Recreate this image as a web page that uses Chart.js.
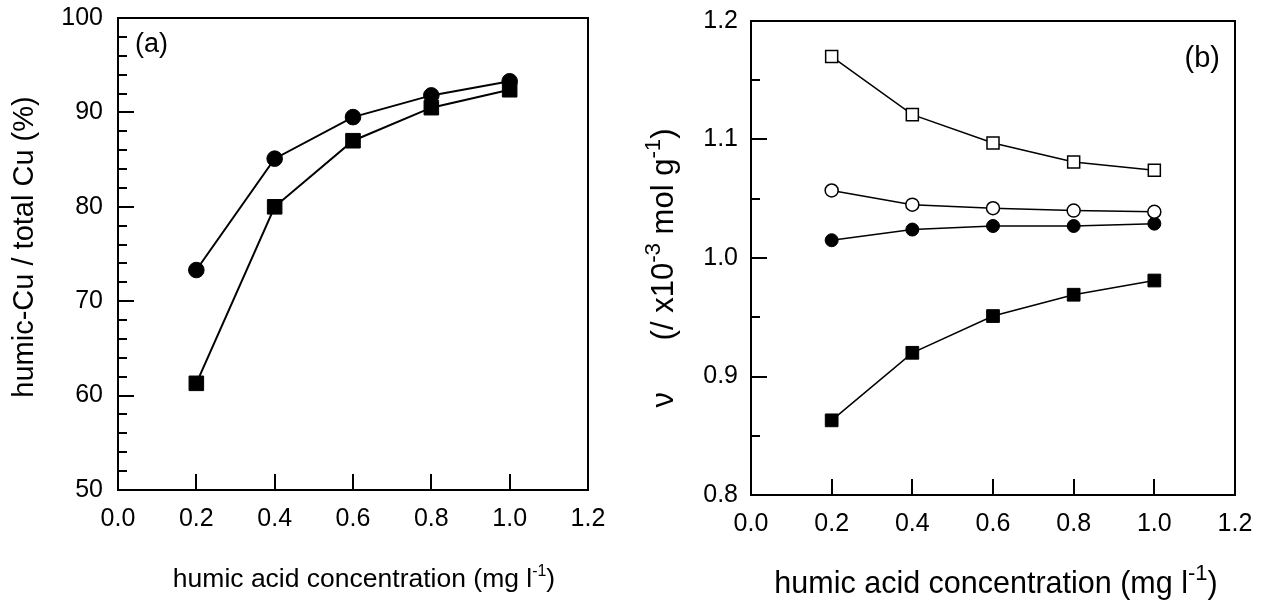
<!DOCTYPE html>
<html>
<head>
<meta charset="utf-8">
<script src="https://cdn.jsdelivr.net/npm/chart.js@4.4.0/dist/chart.umd.min.js"></script>
<style>
  html, body { margin: 0; padding: 0; background: #fff; }
  #wrap { position: relative; width: 1262px; height: 603px; }
  .panel { position: absolute; top: 0; width: 631px; height: 603px; }
</style>
</head>
<body>
<div id="wrap">
  <div class="panel" style="left:0"><canvas id="chartA" width="631" height="603"></canvas></div>
  <div class="panel" style="left:631px"><canvas id="chartB" width="631" height="603"></canvas></div>
</div>
<script>
const concentration = [0.2, 0.4, 0.6, 0.8, 1.0];

// (a) humic-Cu / total Cu (%)
const boundCircles = [73.3, 85.1, 89.5, 91.8, 93.3];
const boundSquares = [61.3, 80.0, 87.0, 90.5, 92.4];

// (b) nu (x10^-3 mol/g)
const nuOpenSquares = [1.170, 1.121, 1.097, 1.081, 1.074];
const nuOpenCircles = [1.057, 1.045, 1.042, 1.040, 1.039];
const nuFilledCircles = [1.015, 1.024, 1.027, 1.027, 1.029];
const nuFilledSquares = [0.863, 0.920, 0.951, 0.969, 0.981];

const xTickValues = [0.0, 0.2, 0.4, 0.6, 0.8, 1.0, 1.2];
const yTicksA = [50, 60, 70, 80, 90, 100];
const yTicksB = [0.8, 0.9, 1.0, 1.1, 1.2];

const FONT = "'Liberation Sans', Arial, Helvetica, sans-serif";

// axis titles as pieces so the exponents can be raised
const xTitleParts = [{ t: 'humic acid concentration (mg l' }, { t: '-1', sup: true }, { t: ')' }];
const yTitlePartsA = [{ t: 'humic-Cu / total Cu (%)' }];
const yTitlePartsB = [{ t: '\u03BD      (/ x10' }, { t: '-3', sup: true }, { t: ' mol g' }, { t: '-1', sup: true }, { t: ')' }];

function pts(ys) {
  return concentration.map((x, i) => ({ x: x, y: ys[i] }));
}

function series(ys, style, filled, r, lw) {
  return {
    data: pts(ys),
    showLine: true,
    borderColor: '#000',
    borderWidth: lw,
    pointStyle: style,
    pointRadius: r,
    pointHoverRadius: r,
    pointBackgroundColor: filled ? '#000' : '#fff',
    pointBorderColor: '#000',
    pointBorderWidth: filled ? 1 : 1.5,
    tension: 0
  };
}

function drawRich(ctx, parts, x, y, size, supScale, rotate) {
  ctx.save();
  ctx.translate(x, y);
  if (rotate) ctx.rotate(-Math.PI / 2);
  ctx.textBaseline = 'alphabetic';
  ctx.textAlign = 'left';
  const supSize = size * supScale;
  const widths = parts.map(p => {
    ctx.font = (p.sup ? supSize : size) + 'px ' + FONT;
    return ctx.measureText(p.t).width;
  });
  let cx = -widths.reduce((s, w) => s + w, 0) / 2;
  parts.forEach((p, i) => {
    ctx.font = (p.sup ? supSize : size) + 'px ' + FONT;
    ctx.fillText(p.t, cx, p.sup ? -size * 0.42 : 0);
    cx += widths[i];
  });
  ctx.restore();
}

// box frame, inward ticks, panel letter and axis titles
const framePlugin = {
  id: 'frame',
  beforeDatasetsDraw(chart, args, opts) {
    const { ctx, chartArea: a } = chart;
    const xs = chart.scales.x, ys = chart.scales.y;
    ctx.save();
    ctx.strokeStyle = '#000';
    ctx.lineWidth = opts.lineWidth;
    ctx.strokeRect(a.left, a.top, a.right - a.left, a.bottom - a.top);

    ctx.beginPath();
    xs.ticks.forEach(t => {
      if (t.value <= xs.min + 1e-9 || t.value >= xs.max - 1e-9) return;
      const px = Math.round(xs.getPixelForValue(t.value));
      ctx.moveTo(px, a.bottom);
      ctx.lineTo(px, a.bottom - opts.major);
    });
    const n = Math.round((ys.max - ys.min) / opts.yMinor);
    for (let i = 1; i < n; i++) {
      const v = ys.min + i * opts.yMinor;
      const len = (i % opts.minorPerMajor === 0) ? opts.major : opts.minor;
      const py = Math.round(ys.getPixelForValue(v));
      ctx.moveTo(a.left, py);
      ctx.lineTo(a.left + len, py);
    }
    ctx.stroke();

    ctx.fillStyle = '#000';
    ctx.font = opts.labelSize + 'px ' + FONT;
    ctx.textAlign = opts.labelAlign;
    ctx.textBaseline = 'alphabetic';
    const lx = opts.labelAlign === 'left' ? a.left + opts.labelDx : a.right - opts.labelDx;
    ctx.fillText(opts.label, lx, a.top + opts.labelDy);

    const xt = opts.xTitle, yt = opts.yTitle;
    drawRich(ctx, xt.parts, (a.left + a.right) / 2 + xt.dx, xt.baseline, xt.size, xt.supScale, false);
    drawRich(ctx, yt.parts, yt.baseline, (a.top + a.bottom) / 2 + yt.dy, yt.size, yt.supScale, true);
    ctx.restore();
  }
};

function makeOptions(cfg) {
  return {
    responsive: false,
    animation: false,
    events: [],
    layout: { padding: { top: cfg.top, right: cfg.right, left: 0, bottom: 0 } },
    plugins: {
      legend: { display: false },
      tooltip: { enabled: false },
      frame: cfg.frame
    },
    scales: {
      x: {
        type: 'linear',
        min: 0,
        max: 1.2,
        afterBuildTicks: s => { s.ticks = xTickValues.map(v => ({ value: v })); },
        afterFit: s => { s.height = cfg.xHeight; s.paddingLeft = 0; s.paddingRight = 0; },
        grid: { display: false, drawTicks: false },
        border: { display: false },
        ticks: {
          padding: 14,
          color: '#000',
          font: { family: FONT, size: 25 },
          maxRotation: 0,
          autoSkip: false,
          callback: v => v.toFixed(1)
        }
      },
      y: {
        type: 'linear',
        min: cfg.yMin,
        max: cfg.yMax,
        afterBuildTicks: s => { s.ticks = cfg.yTicks.map(v => ({ value: v })); },
        afterFit: s => { s.width = cfg.yWidth; s.paddingTop = 0; s.paddingBottom = 0; },
        grid: { display: false, drawTicks: false },
        border: { display: false },
        ticks: {
          padding: cfg.yTickPad,
          color: '#000',
          font: { family: FONT, size: 25 },
          callback: cfg.yFormat
        }
      }
    }
  };
}

new Chart(document.getElementById('chartA'), {
  type: 'scatter',
  data: {
    datasets: [
      series(boundCircles, 'circle', true, 7.8, 2),
      series(boundSquares, 'rect', true, 10.3, 2)
    ]
  },
  options: makeOptions({
    top: 18, right: 43, xHeight: 113, yWidth: 118,
    yMin: 50, yMax: 100, yTicks: yTicksA, yTickPad: 15,
    yFormat: v => String(v),
    frame: {
      lineWidth: 2, major: 16, minor: 9, yMinor: 2, minorPerMajor: 5,
      label: '(a)', labelAlign: 'left', labelDx: 17, labelDy: 34, labelSize: 27,
      xTitle: { parts: xTitleParts, size: 26.5, supScale: 0.6, baseline: 587, dx: 11 },
      yTitle: { parts: yTitlePartsA, size: 29, supScale: 0.6, baseline: 33, dy: -7 }
    }
  }),
  plugins: [framePlugin]
});

new Chart(document.getElementById('chartB'), {
  type: 'scatter',
  data: {
    datasets: [
      series(nuOpenSquares, 'rect', false, 8.5, 1.5),
      series(nuOpenCircles, 'circle', false, 6.5, 1.5),
      series(nuFilledCircles, 'circle', true, 6.5, 1.5),
      series(nuFilledSquares, 'rect', true, 9, 1.5)
    ]
  },
  options: makeOptions({
    top: 21, right: 27, xHeight: 108, yWidth: 120,
    yMin: 0.8, yMax: 1.2, yTicks: yTicksB, yTickPad: 13,
    yFormat: v => v.toFixed(1),
    frame: {
      lineWidth: 2, major: 16, minor: 9, yMinor: 0.05, minorPerMajor: 2,
      label: '(b)', labelAlign: 'right', labelDx: 15, labelDy: 46, labelSize: 29,
      xTitle: { parts: xTitleParts, size: 30.5, supScale: 0.72, baseline: 593, dx: 3 },
      yTitle: { parts: yTitlePartsB, size: 31, supScale: 0.72, baseline: 42, dy: 10 }
    }
  }),
  plugins: [framePlugin]
});
</script>
</body>
</html>
